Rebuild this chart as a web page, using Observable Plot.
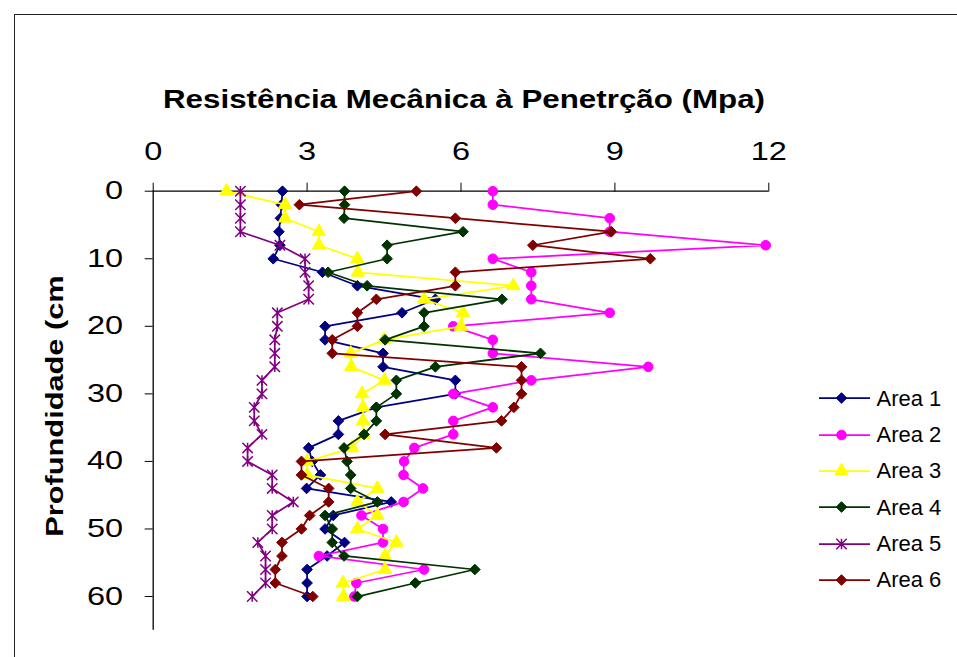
<!DOCTYPE html>
<html><head><meta charset="utf-8">
<script src="https://cdn.jsdelivr.net/npm/d3@7"></script>
<script src="https://cdn.jsdelivr.net/npm/@observablehq/plot@0.6"></script>
<style>
html,body{margin:0;padding:0;background:#fff;}
body{width:957px;height:657px;position:relative;overflow:hidden;font-family:"Liberation Sans",Arial,sans-serif;}
#frame{position:absolute;left:14px;top:14px;width:1000px;height:700px;border:1.5px solid #222;box-sizing:border-box;}
#chart{position:absolute;left:0;top:0;}
#chart svg{overflow:visible;}
#title{position:absolute;left:464px;top:86px;font-weight:bold;font-size:26px;line-height:26px;white-space:nowrap;color:#000;transform-origin:50% 50%;}
#ylabel{position:absolute;left:55px;top:406px;font-weight:bold;font-size:23px;line-height:23px;white-space:nowrap;color:#000;transform-origin:50% 50%;}
.leg{position:absolute;left:0;top:0;}
.legtext{position:absolute;font-size:22px;line-height:22px;white-space:nowrap;color:#000;}
</style>
</head><body>
<div id="frame"></div>
<div id="chart"></div>
<div id="title">Resistência Mecânica à Penetrção (Mpa)</div>
<div id="ylabel">Profundidade (cm</div>
<div id="legend"></div>
<script>
// ---- data ----
const depth = [0,2,4,6,8,10,12,14,16,18,20,22,24,26,28,30,32,34,36,38,40,42,44,46,48,50,52,54,56,58,60];
const seriesNames = ["Area 1","Area 2","Area 3","Area 4","Area 5","Area 6"];
const xTicks = [0,3,6,9,12];
const yTicks = [0,10,20,30,40,50,60];
const area1 = [2.52,2.50,2.48,2.45,2.47,2.34,3.30,3.98,5.50,4.85,3.35,3.35,4.48,4.48,5.89,5.89,4.35,3.61,3.61,3.03,3.10,3.26,2.99,4.64,3.51,3.35,3.73,3.39,3.00,3.00,3.00];
const area2 = [6.62,6.62,8.90,8.90,11.94,6.62,7.37,7.37,7.37,8.90,5.85,6.62,6.62,9.65,7.37,5.85,6.62,5.85,5.85,5.09,4.89,4.88,5.26,4.88,4.06,4.48,4.48,3.23,5.28,3.96,3.92];
const area3 = [1.43,2.57,2.57,3.23,3.23,3.98,3.99,7.02,5.28,6.04,6.00,4.50,3.85,3.86,4.51,4.07,4.09,4.09,4.10,3.88,3.00,3.00,4.37,3.98,4.37,3.98,4.74,4.52,4.52,3.70,3.71];
const area4 = [3.73,3.73,3.72,6.04,4.56,4.56,3.41,4.17,6.80,5.28,5.28,4.52,7.55,5.50,4.74,4.74,4.35,4.35,4.11,3.72,3.78,3.85,3.85,4.37,3.35,3.49,3.49,3.72,6.27,5.11,3.98];
const area5 = [1.70,1.70,1.70,1.70,2.47,2.96,2.96,3.03,3.03,2.42,2.42,2.37,2.37,2.37,2.12,2.12,1.97,1.97,2.12,1.84,1.84,2.32,2.32,2.73,2.32,2.32,2.04,2.19,2.19,2.19,1.93];
const area6 = [5.13,2.85,5.89,8.93,7.40,9.69,5.89,5.89,4.35,3.98,3.98,3.49,3.49,7.18,7.18,7.18,7.03,6.79,4.52,6.69,2.89,2.89,3.42,3.42,3.05,2.89,2.51,2.51,2.38,2.38,3.11];

// ---- styles ----
const colors = ["#000080","#FF00FF","#FFFF00","#003300","#800080","#800000"];
const star = {draw(ctx, size){const r=Math.sqrt(size/Math.PI);ctx.moveTo(-r,-r);ctx.lineTo(r,r);ctx.moveTo(-r,r);ctx.lineTo(r,-r);ctx.moveTo(0,-r);ctx.lineTo(0,r);}};
const symbols = ["diamond2","circle","triangle","diamond2", star, "diamond2"];
const radii = [4.8,4.8,5.0,4.8,5.2,4.8];
const filled = [true,true,true,true,false,true];

const allValues = [area1,area2,area3,area4,area5,area6];
const seriesMarks = [];
allValues.forEach((vals,i)=>{
  const rows = depth.map((d,j)=>({series:seriesNames[i], depth:d, value:vals[j]}));
  seriesMarks.push(Plot.line(rows,{x:"value",y:"depth",stroke:colors[i],strokeWidth:1.75,curve:"linear"}));
  seriesMarks.push(Plot.dot(rows,{x:"value",y:"depth",symbol:symbols[i],r:radii[i],
    fill: filled[i]?colors[i]:"none", stroke:colors[i], strokeWidth: filled[i]?1:1.5}));
});

const chart = Plot.plot({
  width:957, height:657,
  marginLeft:152.7, marginRight:188.7, marginTop:190.7, marginBottom:27.2,
  x:{domain:[0,12]},
  y:{domain:[0,65], reverse:true},
  style:{fontFamily:'"Liberation Sans", Arial, sans-serif', fontSize:"25px", color:"#000", background:"transparent"},
  marks:[
    Plot.axisX({anchor:"top", ticks:xTicks, tickSize:9, tickPadding:22, label:null, tickFormat:d=>String(d)}),
    Plot.axisY({anchor:"left", ticks:yTicks, tickSize:8, tickPadding:22, label:null, tickFormat:d=>String(d)}),
    Plot.ruleY([0],{stroke:"#000",strokeWidth:1.3}),
    Plot.ruleX([0],{stroke:"#000",strokeWidth:1.3}),
    ...seriesMarks
  ]
});
document.getElementById("chart").appendChild(chart);
chart.querySelectorAll('g[aria-label$="tick label"] text').forEach(t=>{
  const L=t.getComputedTextLength();
  t.setAttribute("textLength",(L*1.3).toFixed(2));
  t.setAttribute("lengthAdjust","spacingAndGlyphs");
});

// title & y label stretch
const title=document.getElementById("title");
title.style.transform=`translate(-50%,0) scaleX(${602/title.offsetWidth})`;
const yl=document.getElementById("ylabel");
yl.style.transform=`translate(-50%,-50%) rotate(-90deg) scaleX(${262/yl.offsetWidth})`;

// legend
const legend=document.getElementById("legend");
seriesNames.forEach((name,i)=>{
  const cy=398.3+i*36.3;
  const svg=d3.create("svg").attr("class","leg").attr("width",54).attr("height",16)
    .style("left","818px").style("top",(cy-8)+"px");
  svg.append("line").attr("x1",1).attr("x2",52).attr("y1",8).attr("y2",8).attr("stroke",colors[i]).attr("stroke-width",1.75);
  const sym = typeof symbols[i]==="string" ? {diamond2:d3.symbolDiamond2,circle:d3.symbolCircle,triangle:d3.symbolTriangle}[symbols[i]] : symbols[i];
  svg.append("path").attr("transform","translate(23.5,8)")
    .attr("d",d3.symbol(sym, Math.PI*radii[i]*radii[i])())
    .attr("fill",filled[i]?colors[i]:"none").attr("stroke",colors[i]).attr("stroke-width",filled[i]?1:1.5);
  legend.appendChild(svg.node());
  const tx=document.createElement("div");
  tx.className="legtext";tx.textContent=name;
  tx.style.left="876.5px";tx.style.top=(cy-10.7)+"px";
  legend.appendChild(tx);
});
</script>
</body></html>
